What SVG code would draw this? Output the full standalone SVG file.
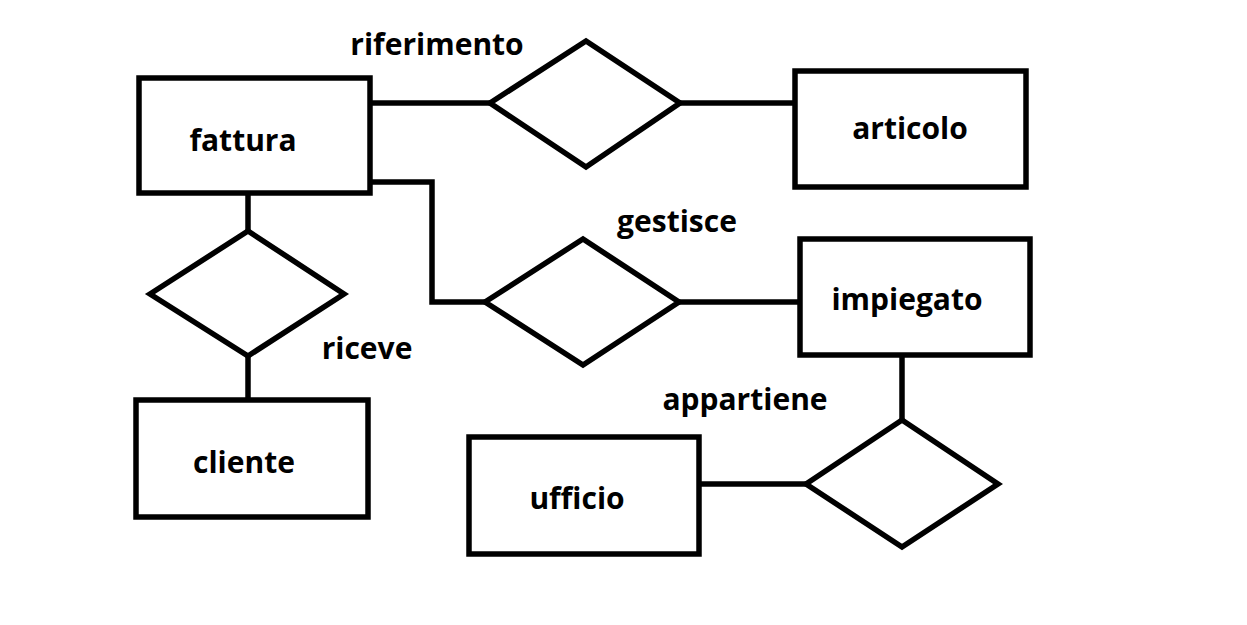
<svg xmlns="http://www.w3.org/2000/svg" width="1247" height="625" viewBox="0 0 1247 625">
<style>
.e{fill:#fff;stroke:#000;stroke-width:5.5}
.r{fill:#fff;stroke:#000;stroke-width:5.5;stroke-linejoin:miter}
.c{fill:none;stroke:#000;stroke-width:5.5}
text{font-family:"Open Sans","Noto Sans","DejaVu Sans",sans-serif;font-weight:bold;font-size:30px;fill:#000;text-anchor:middle}
</style>
<rect width="1247" height="625" fill="#fff"/>
<g id="connectors">
<line class="c" x1="370" y1="103" x2="490" y2="103"/>
<line class="c" x1="680" y1="103" x2="795" y2="103"/>
<polyline class="c" points="370,182 432,182 432,302 485,302"/>
<line class="c" x1="679" y1="302" x2="800" y2="302"/>
<line class="c" x1="248" y1="193" x2="248" y2="231"/>
<line class="c" x1="248" y1="356" x2="248" y2="400"/>
<line class="c" x1="902" y1="355" x2="902" y2="420"/>
<line class="c" x1="699" y1="484" x2="806" y2="484"/>
</g>
<g id="fattura"><rect class="e" x="139" y="78" width="231" height="115"/><text x="243" y="151">fattura</text></g>
<g id="articolo"><rect class="e" x="795" y="71" width="231" height="116"/><text x="910" y="139">articolo</text></g>
<g id="impiegato"><rect class="e" x="800" y="239" width="230" height="116"/><text x="907" y="310">impiegato</text></g>
<g id="cliente"><rect class="e" x="136" y="400" width="232" height="117"/><text x="244" y="473">cliente</text></g>
<g id="ufficio"><rect class="e" x="469" y="437" width="230" height="117"/><text x="577" y="509">ufficio</text></g>
<g id="riferimento"><polygon class="r" points="490,103 586,41 680,103 586,167"/><text x="437" y="55">riferimento</text></g>
<g id="gestisce"><polygon class="r" points="485,302 583,239 679,302 583,365"/><text x="677" y="232">gestisce</text></g>
<g id="riceve"><polygon class="r" points="150,294 248,231 344,294 248,356"/><text x="367" y="359">riceve</text></g>
<g id="appartiene"><polygon class="r" points="806,484 902,420 998,484 902,547"/><text x="745" y="410">appartiene</text></g>
</svg>
